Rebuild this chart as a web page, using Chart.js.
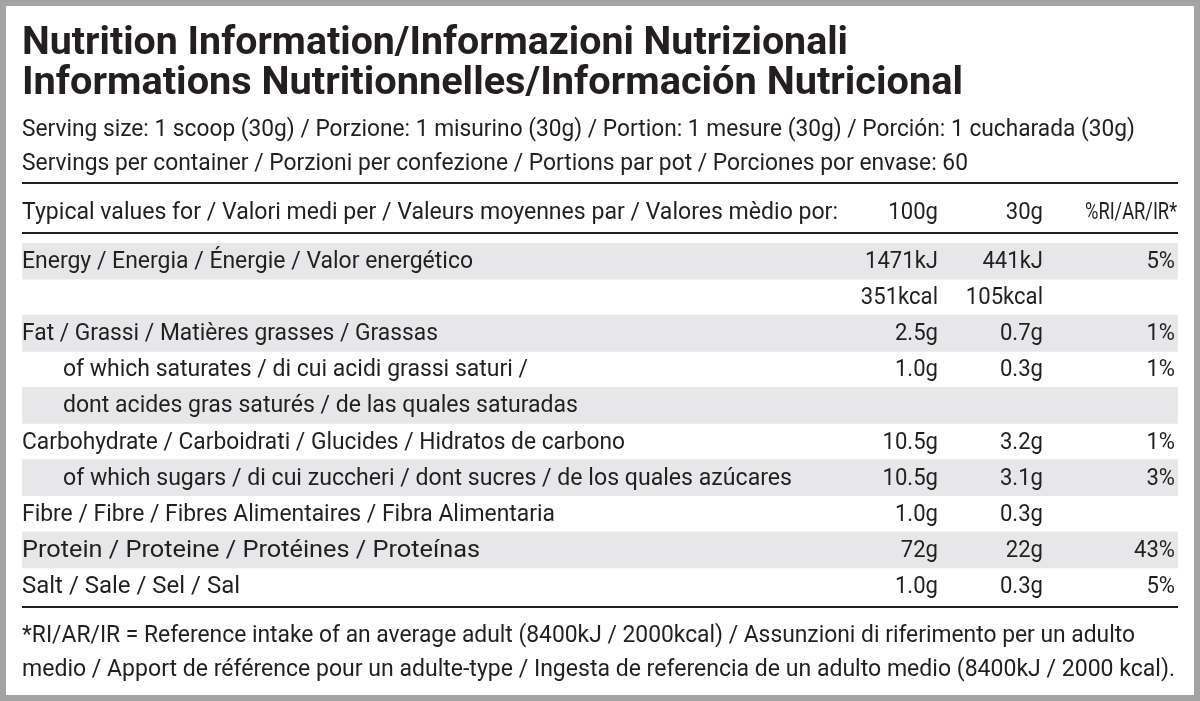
<!DOCTYPE html>
<html>
<head>
<meta charset="utf-8">
<script src="https://cdn.jsdelivr.net/npm/chart.js@4.4.1/dist/chart.umd.min.js"></script>
<style>
  html, body { margin: 0; padding: 0; background: #fff; }
  #wrap { width: 1200px; height: 701px; position: relative; }
</style>
</head>
<body>
<div id="wrap"><canvas id="table"></canvas></div>
<script>
// Table data
const titleLines = [
  'Nutrition Information/Informazioni Nutrizionali',
  'Informations Nutritionnelles/Información Nutricional'
];
const servingLines = [
  'Serving size: 1 scoop (30g) / Porzione: 1 misurino (30g) / Portion: 1 mesure (30g) / Porción: 1 cucharada (30g)',
  'Servings per container / Porzioni per confezione / Portions par pot / Porciones por envase: 60'
];
const headerLabels = ['Typical values for / Valori medi per / Valeurs moyennes par / Valores mèdio por:', '100g', '30g', '%RI/AR/IR*'];
const rowLabels = [
  'Energy / Energia / Énergie / Valor energético',
  '',
  'Fat / Grassi / Matières grasses / Grassas',
  'of which saturates / di cui acidi grassi saturi /',
  'dont acides gras saturés / de las quales saturadas',
  'Carbohydrate / Carboidrati / Glucides / Hidratos de carbono',
  'of which sugars / di cui zuccheri / dont sucres / de los quales azúcares',
  'Fibre / Fibre / Fibres Alimentaires / Fibra Alimentaria',
  'Protein / Proteine / Protéines / Proteínas',
  'Salt / Sale / Sel / Sal'
];
const indented = [false, false, false, true, true, false, true, false, false, false];
const per100g = ['1471kJ', '351kcal', '2.5g', '1.0g', '', '10.5g', '10.5g', '1.0g', '72g', '1.0g'];
const per30g = ['441kJ', '105kcal', '0.7g', '0.3g', '', '3.2g', '3.1g', '0.3g', '22g', '0.3g'];
const riPct = ['5%', '', '1%', '1%', '', '1%', '3%', '', '43%', '5%'];
const shaded = [1, 0, 1, 0, 1, 0, 1, 0, 1, 0];
const footLines = [
  '*RI/AR/IR = Reference intake of an average adult (8400kJ / 2000kcal) / Assunzioni di riferimento per un adulto',
  'medio / Apport de référence pour un adulte-type / Ingesta de referencia de un adulto medio (8400kJ / 2000 kcal).'
];

const FONT = 'Roboto, "Liberation Sans", sans-serif';
const INK = '#231f20';

// Draw text, squeezed horizontally (condensed look) or fitted to a target width
function drawText(ctx, text, x, y, opts) {
  const size = opts.size || 24;
  ctx.save();
  ctx.font = `${opts.bold ? 'bold ' : ''}${size}px ${FONT}`;
  ctx.fillStyle = INK;
  ctx.textBaseline = 'middle';
  const w = ctx.measureText(text).width;
  const sx = opts.width ? opts.width / w : 0.92;
  ctx.translate(x, y);
  ctx.scale(sx, 1);
  ctx.textAlign = opts.align || 'left';
  ctx.fillText(text, 0, 0);
  ctx.restore();
}

function hline(ctx, y, w) {
  ctx.save();
  ctx.strokeStyle = INK;
  ctx.lineWidth = w;
  ctx.beginPath();
  ctx.moveTo(22, y);
  ctx.lineTo(1178, y);
  ctx.stroke();
  ctx.restore();
}

const rowWidths = [451, 0, 416, 465, 515, 603, 729, 533, 458, 218];

const tablePlugin = {
  id: 'tableText',
  beforeDraw(chart) {
    const ctx = chart.ctx;
    ctx.save();
    ctx.fillStyle = '#fff';
    ctx.fillRect(0, 0, chart.width, chart.height);
    ctx.strokeStyle = '#a3a3a3';
    ctx.lineWidth = 6;
    ctx.strokeRect(3, 3, chart.width - 6, chart.height - 6);
    ctx.restore();
  },
  afterDraw(chart) {
    const ctx = chart.ctx;
    const y = chart.scales.y;
    drawText(ctx, titleLines[0], 22, 44, { size: 39, bold: true, width: 826 });
    drawText(ctx, titleLines[1], 22, 84, { size: 39, bold: true, width: 941 });
    drawText(ctx, servingLines[0], 22, 130, { width: 1113 });
    drawText(ctx, servingLines[1], 22, 164, { width: 946 });
    hline(ctx, 183, 2);
    drawText(ctx, headerLabels[0], 22, 213, { width: 816 });
    drawText(ctx, headerLabels[1], 938, 213, { align: 'right' });
    drawText(ctx, headerLabels[2], 1043, 213, { align: 'right' });
    drawText(ctx, headerLabels[3], 1177, 213, { align: 'right', width: 92 });
    hline(ctx, 233, 2);
    rowLabels.forEach((label, i) => {
      const cy = y.getPixelForValue(i) + 1;
      if (label) drawText(ctx, label, indented[i] ? 63 : 22, cy, { width: rowWidths[i] });
      if (per100g[i]) drawText(ctx, per100g[i], 938, cy, { align: 'right' });
      if (per30g[i]) drawText(ctx, per30g[i], 1043, cy, { align: 'right' });
      if (riPct[i]) drawText(ctx, riPct[i], 1175, cy, { align: 'right' });
    });
    hline(ctx, 607, 2);
    drawText(ctx, footLines[0], 22, 636, { width: 1113 });
    drawText(ctx, footLines[1], 22, 670, { width: 1153 });
  }
};

new Chart(document.getElementById('table'), {
  type: 'bar',
  data: {
    labels: rowLabels.map((l, i) => 'row' + i),
    datasets: [{
      data: shaded.map(s => s ? [0, 1] : null),
      backgroundColor: '#e7e7e9',
      borderWidth: 0,
      barPercentage: 1,
      categoryPercentage: 1
    }]
  },
  options: {
    indexAxis: 'y',
    responsive: true,
    maintainAspectRatio: false,
    animation: false,
    layout: { padding: { top: 243, bottom: 97, left: 22, right: 22 } },
    plugins: { legend: { display: false }, tooltip: { enabled: false } },
    scales: {
      x: { display: false, min: 0, max: 1 },
      y: { display: false }
    }
  },
  plugins: [tablePlugin]
});
</script>
</body>
</html>
